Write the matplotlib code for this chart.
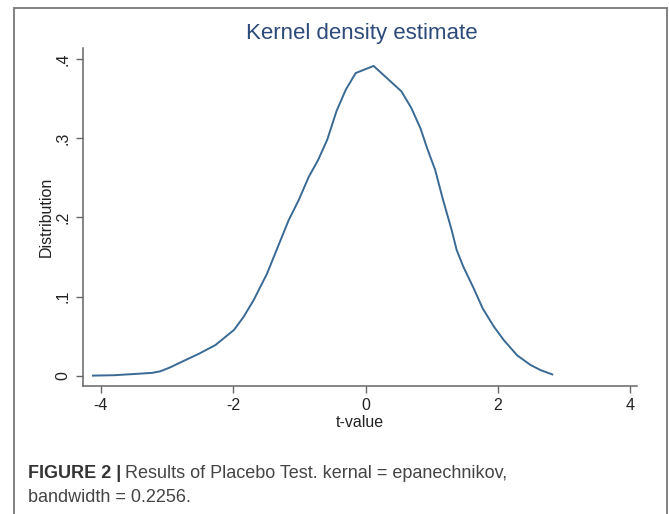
import matplotlib
matplotlib.use("Agg")
import matplotlib.pyplot as plt
from matplotlib.patches import Rectangle

# Data
t_values = [-4.12, -3.8, -3.5, -3.22, -3.1, -2.95, -2.75, -2.52, -2.27, -1.99, -1.84,
            -1.69, -1.49, -1.34, -1.16, -1.01, -0.86, -0.72, -0.58, -0.44, -0.30,
            -0.15, 0.12, 0.54, 0.69, 0.83, 0.93, 1.05, 1.17, 1.30, 1.375, 1.475, 1.63, 1.77,
            1.94, 2.09, 2.29, 2.49, 2.64, 2.82]
density = [0.0005, 0.001, 0.0025, 0.004, 0.006, 0.011, 0.019, 0.028, 0.039, 0.058, 0.075,
           0.096, 0.129, 0.160, 0.197, 0.222, 0.251, 0.272, 0.298, 0.334, 0.361,
           0.382, 0.391, 0.359, 0.338, 0.312, 0.287, 0.260, 0.222, 0.184, 0.159, 0.138, 0.111, 0.085,
           0.062, 0.045, 0.026, 0.014, 0.0075, 0.002]
x_ticks = [-4, -2, 0, 2, 4]
x_tick_labels = ["-4", "-2", "0", "2", "4"]
y_ticks = [0, 0.1, 0.2, 0.3, 0.4]
y_tick_labels = ["0", ".1", ".2", ".3", ".4"]

W, H = 669, 514
fig = plt.figure(figsize=(W / 100, H / 100), dpi=100)
plt.rcParams['font.family'] = ['Liberation Sans', 'DejaVu Sans']

# outer frame
fig.patches.append(Rectangle((14 / W, -0.1), (667 - 14) / W, 1.1 - 8 / H,
                             transform=fig.transFigure, fill=False,
                             edgecolor='#777777', linewidth=1.3))

ax_l, ax_r, ax_t, ax_b = 83, 637, 48, 386
ax = fig.add_axes([ax_l / W, 1 - ax_b / H, (ax_r - ax_l) / W, (ax_b - ax_t) / H])
ax.plot(t_values, density, color='#3a6a94', linewidth=1.4)

ax.set_xlim(-4.27, 4.10)
ax.set_ylim(-0.0126, 0.4136)
for s in ['top', 'right']:
    ax.spines[s].set_visible(False)
for s in ['left', 'bottom']:
    ax.spines[s].set_color('#666666')
    ax.spines[s].set_linewidth(1.1)

ax.set_xticks(x_ticks)
ax.set_xticklabels(x_tick_labels, fontsize=11.5)
ax.set_yticks(y_ticks)
ax.set_yticklabels(y_tick_labels, fontsize=11.5, rotation=90, va='center')
ax.tick_params(axis='both', direction='out', length=5, width=1, color='#666666',
               labelcolor='#222222', pad=4)
ax.set_xlabel("t-value", fontsize=11.5, color='#222222', labelpad=1)
ax.set_ylabel("Distribution", fontsize=11.5, color='#222222')
ax.yaxis.set_label_coords((54 - ax_l) / (ax_r - ax_l), 0.5)

fig.text(362 / W, 1 - 33 / H, "Kernel density estimate", ha='center', va='center',
         fontsize=16, color='#2c4a7a')

cap_family = ['Liberation Sans', 'DejaVu Sans']
t1 = fig.text(28 / W, 1 - 474 / H, "FIGURE 2 |", ha='left', va='center',
              fontsize=13, fontweight='bold', color='#333333', family=cap_family)
fig.canvas.draw()
bb = t1.get_window_extent()
fig.text((bb.x1 + 4) / W, 1 - 474 / H,
         "Results of Placebo Test. kernal = epanechnikov,", ha='left', va='center',
         fontsize=13, color='#444444', family=cap_family)
fig.text(28 / W, 1 - 497 / H, "bandwidth = 0.2256.", ha='left', va='center',
         fontsize=13, color='#444444', family=cap_family)

fig.savefig("out.png", dpi=100)
